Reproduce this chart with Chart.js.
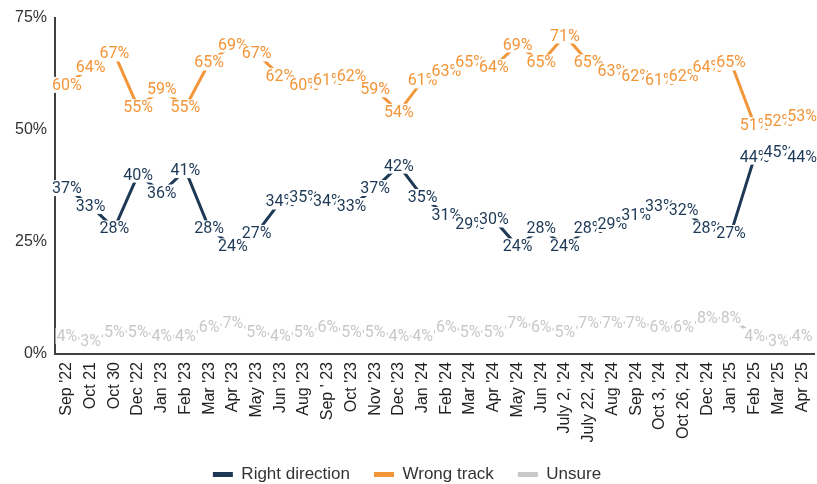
<!DOCTYPE html>
<html>
<head>
<meta charset="utf-8">
<script src="https://cdn.jsdelivr.net/npm/chart.js@4.4.1/dist/chart.umd.min.js"></script>
<style>
  html, body { margin: 0; padding: 0; background: #fff; }
  #wrap { width: 817px; height: 484px; }
</style>
</head>
<body>
<div id="wrap"><canvas id="chart" width="817" height="484"></canvas></div>
<script>
// 조사 시점(X축)
const surveyLabels = ["Sep '22", "Oct 21", "Oct 30", "Dec '22", "Jan '23", "Feb '23", "Mar '23", "Apr '23",
  "May '23", "Jun '23", "Aug '23", "Sep ' 23", "Oct '23", "Nov '23", "Dec '23", "Jan '24",
  "Feb '24", "Mar '24", "Apr '24", "May '24", "Jun '24", "July 2, '24", "July 22, '24", "Aug '24",
  "Sep '24", "Oct 3, '24", "Oct 26, '24", "Dec '24", "Jan '25", "Feb '25", "Mar '25", "Apr '25"];

// 시리즈 값(%)
const rightDirection = [37, 33, 28, 40, 36, 41, 28, 24, 27, 34, 35, 34, 33, 37, 42, 35,
  31, 29, 30, 24, 28, 24, 28, 29, 31, 33, 32, 28, 27, 44, 45, 44];
const wrongTrack = [60, 64, 67, 55, 59, 55, 65, 69, 67, 62, 60, 61, 62, 59, 54, 61,
  63, 65, 64, 69, 65, 71, 65, 63, 62, 61, 62, 64, 65, 51, 52, 53];
const unsure = [4, 3, 5, 5, 4, 4, 6, 7, 5, 4, 5, 6, 5, 5, 4, 4,
  6, 5, 5, 7, 6, 5, 7, 7, 7, 6, 6, 8, 8, 4, 3, 4];

// Y축 눈금
const yTicks = [0, 25, 50, 75];

const NAVY = '#1d3956';
const ORANGE = '#f39539';
const GRAY = '#c8c8c8';
const AXIS_FONT = "'Liberation Sans', Arial, sans-serif";

// 포인트 위 % 라벨 (흰 배경 박스)
const pctLabelPlugin = {
  id: 'pctLabels',
  afterDatasetsDraw(chart) {
    const ctx = chart.ctx;
    ctx.save();
    ctx.font = '16px Roboto';
    ctx.textAlign = 'center';
    ctx.textBaseline = 'middle';
    chart.data.datasets.forEach((ds, i) => {
      const meta = chart.getDatasetMeta(i);
      meta.data.forEach((pt, j) => {
        const txt = ds.data[j] + '%';
        const w = ctx.measureText(txt).width;
        ctx.fillStyle = '#fff';
        ctx.fillRect(pt.x - w / 2 - 1, pt.y - 8, w + 2, 16);
        ctx.fillStyle = ds.borderColor;
        ctx.fillText(txt, pt.x, pt.y + 1);
      });
    });
    ctx.restore();
  }
};

function makeSeries(label, data, color) {
  return {
    label: label,
    data: data,
    borderColor: color,
    backgroundColor: color,
    borderWidth: 3,
    pointRadius: 0,
    tension: 0,
    fill: false
  };
}

const chart = new Chart(document.getElementById('chart'), {
  type: 'line',
  data: {
    labels: surveyLabels,
    datasets: [
      makeSeries('Right direction', rightDirection, NAVY),
      makeSeries('Wrong track', wrongTrack, ORANGE),
      makeSeries('Unsure', unsure, GRAY)
    ]
  },
  options: {
    responsive: false,
    animation: false,
    layout: { padding: { top: 2, right: 3, left: 0, bottom: -9 } },
    scales: {
      x: {
        offset: true,
        grid: { display: false, drawTicks: false },
        border: { display: true, color: '#404040', width: 2 },
        ticks: {
          autoSkip: false,
          maxRotation: 90,
          minRotation: 90,
          padding: 8,
          color: '#222',
          font: { family: AXIS_FONT, size: 16 }
        },
        afterFit(scale) {
          scale.height = 88;
          scale.paddingLeft = 0;
          scale.paddingRight = 0;
        }
      },
      y: {
        min: 0,
        max: 75,
        afterBuildTicks(scale) { scale.ticks = yTicks.map(v => ({ value: v })); },
        grid: { display: false, drawTicks: false },
        border: { display: true, color: '#404040', width: 2 },
        ticks: {
          padding: 8,
          color: '#333',
          font: { family: AXIS_FONT, size: 16 },
          callback: v => v + '%'
        },
        afterFit(scale) { scale.width = 55; }
      }
    },
    plugins: {
      tooltip: { enabled: false },
      legend: {
        position: 'bottom',
        labels: {
          boxWidth: 20,
          boxHeight: 5,
          padding: 24,
          color: '#333',
          font: { family: AXIS_FONT, size: 17 },
          generateLabels(c) {
            const items = Chart.defaults.plugins.legend.labels.generateLabels(c);
            items.forEach(it => { it.lineWidth = 0; });
            return items;
          }
        }
      }
    }
  },
  plugins: [pctLabelPlugin]
});
</script>
</body>
</html>
